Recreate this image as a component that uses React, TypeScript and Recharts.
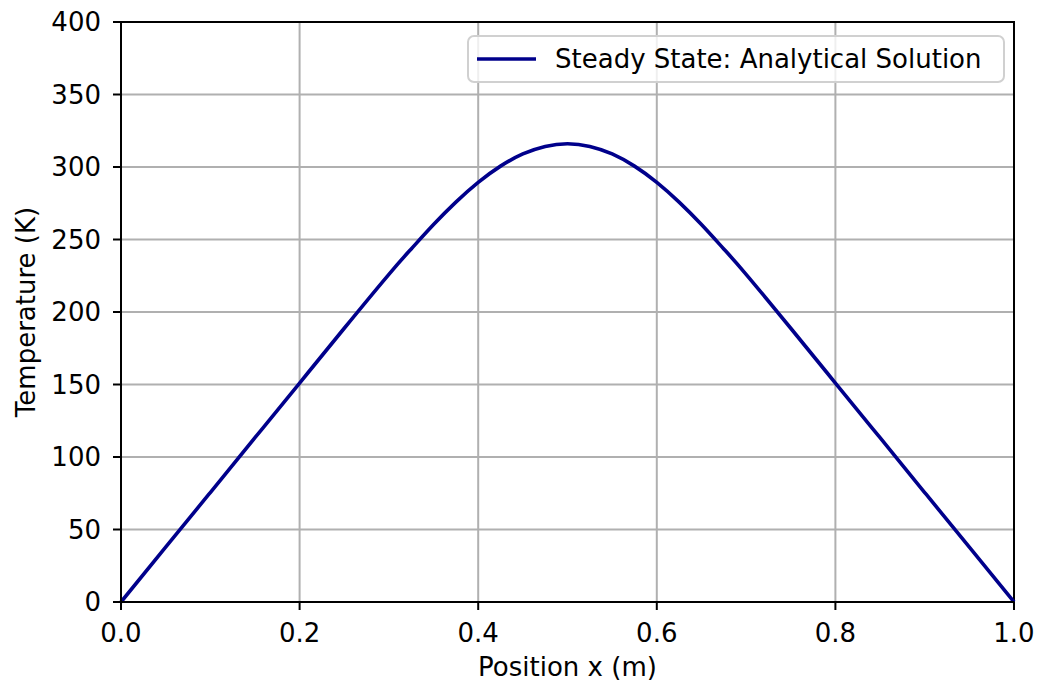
import React from "react";
import {
  LineChart,
  Line,
  XAxis,
  YAxis,
  CartesianGrid,
  Legend,
  ReferenceArea,
  Label,
} from "recharts";

// Steady-state temperature profile along the rod
const positionX = [
  0, 0.05, 0.1, 0.15, 0.2, 0.25, 0.3, 0.325, 0.35, 0.375, 0.4, 0.425, 0.45,
  0.475, 0.5, 0.525, 0.55, 0.575, 0.6, 0.625, 0.65, 0.675, 0.7, 0.75, 0.8,
  0.85, 0.9, 0.95, 1.0,
];
const temperatureK = [
  0, 37.8, 75.5, 113.3, 151, 188.8, 226, 243.5, 260.3, 275.8, 289.4, 300.6,
  309, 314.2, 316, 314.2, 309, 300.6, 289.4, 275.8, 260.3, 243.5, 226, 188.8,
  151, 113.3, 75.5, 37.8, 0,
];

const xTicks = [0, 0.2, 0.4, 0.6, 0.8, 1.0];
const yTicks = [0, 50, 100, 150, 200, 250, 300, 350, 400];

const seriesName = "Steady State: Analytical Solution";
const xTitle = "Position x (m)";
const yTitle = "Temperature (K)";

const data = positionX.map((x, i) => ({ x, T: temperatureK[i] }));

const FONT = "'DejaVu Sans', sans-serif";
const FS = 26;
const LINE_COLOR = "#00008b";

const LegendBox = () => (
  <div
    style={{
      position: "absolute",
      left: 467,
      top: 35,
      width: 534,
      height: 44,
      border: "2px solid #d0d0d0",
      borderRadius: 7,
      background: "rgba(255,255,255,0.8)",
      display: "flex",
      alignItems: "center",
      fontFamily: FONT,
      fontSize: FS,
      color: "#000",
      boxSizing: "content-box",
    }}
  >
    <svg width={86} height={20} style={{ flex: "none" }}>
      <line x1={8} x2={67} y1={10} y2={10} stroke={LINE_COLOR} strokeWidth={3.6} />
    </svg>
    <span style={{ whiteSpace: "nowrap" }}>{seriesName}</span>
  </div>
);

export default function App() {
  return (
    <div style={{ position: "absolute", left: 0, top: 0, width: 1040, height: 684, background: "#fff" }}>
      <LineChart
        width={1040}
        height={684}
        data={data}
        margin={{ top: 22, right: 26, bottom: 0, left: 21 }}
        style={{ fontFamily: FONT }}
      >
        <CartesianGrid stroke="#b0b0b0" strokeWidth={2} />
        <XAxis
          dataKey="x"
          type="number"
          domain={[0, 1]}
          ticks={xTicks}
          tickFormatter={(v: number) => v.toFixed(1)}
          height={82}
          tickSize={8}
          tickMargin={14}
          stroke="#000"
          strokeWidth={2}
          tick={{ fill: "#000", fontSize: FS, fontFamily: FONT }}
          tickLine={{ stroke: "#000", strokeWidth: 2 }}
          interval={0}
        >
          <Label
            value={xTitle}
            position="insideBottom"
            offset={8}
            style={{ fill: "#000", fontSize: FS, fontFamily: FONT }}
          />
        </XAxis>
        <YAxis
          type="number"
          domain={[0, 400]}
          ticks={yTicks}
          width={100}
          tickSize={8}
          tickMargin={12}
          stroke="#000"
          strokeWidth={2}
          tick={{ fill: "#000", fontSize: FS, fontFamily: FONT }}
          tickLine={{ stroke: "#000", strokeWidth: 2 }}
          interval={0}
        >
          <Label
            value={yTitle}
            angle={-90}
            position="center"
            dx={-45}
            style={{ fill: "#000", fontSize: FS, fontFamily: FONT, textAnchor: "middle" }}
          />
        </YAxis>
        <ReferenceArea
          x1={0}
          x2={1}
          y1={0}
          y2={400}
          fill="none"
          stroke="#000"
          strokeWidth={2}
          ifOverflow="visible"
        />
        <Line
          type="natural"
          dataKey="T"
          name={seriesName}
          stroke={LINE_COLOR}
          strokeWidth={3.6}
          dot={false}
          activeDot={false}
          isAnimationActive={false}
        />
        <Legend content={() => <LegendBox />} wrapperStyle={{ position: "absolute", left: 0, top: 0, width: 0, height: 0 }} />
      </LineChart>
    </div>
  );
}
